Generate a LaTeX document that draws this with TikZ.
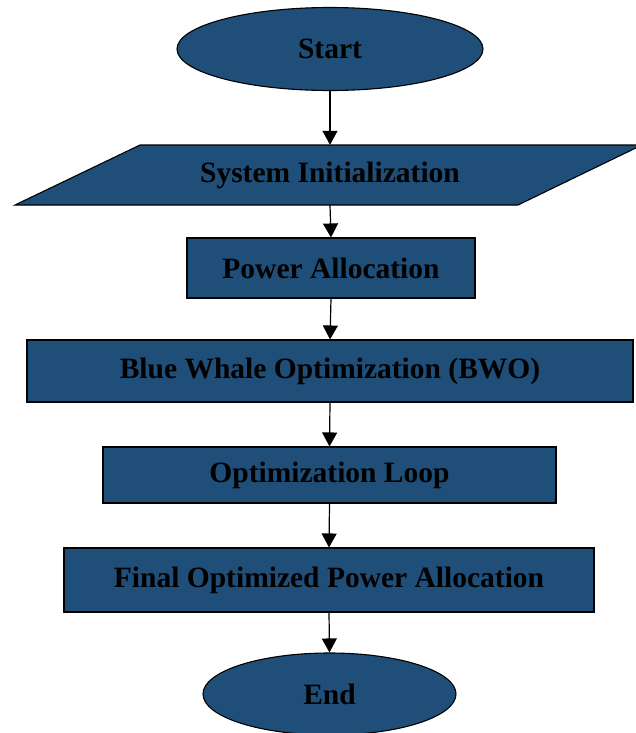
\documentclass[tikz,border=0pt]{standalone}
\usepackage{fontspec}
\setmainfont{Liberation Serif}
\usetikzlibrary{shapes.geometric,arrows.meta}

\definecolor{boxblue}{RGB}{31,78,121}

\begin{document}
\begin{tikzpicture}[x=1pt, y=-1pt]

\useasboundingbox (0,0) rectangle (635,733);

% Define styles for the blocks and the arrows
\tikzstyle{block} = [draw=black, fill=boxblue, line width=1.1pt]
\tikzstyle{txt} = [font=\fontsize{29.5}{34}\selectfont\bfseries, text=black, align=center]
\tikzstyle{stepbox} = [block, txt, rectangle, inner sep=0pt]
\tikzstyle{term} = [block, txt, ellipse, inner sep=0pt]
\tikzstyle{arrow} = [line width=1.2pt, -{Triangle[width=15pt, length=14pt]}]

% Terminals
\node[term, minimum width=306, minimum height=83] (start) at (330,49) {Start};
\node[term, minimum width=253, minimum height=82] (end) at (329.5,694) {End};

% Input block (parallelogram)
\filldraw[block] (15,205) -- (518,205) -- (642,145) -- (140,145) -- cycle;
\node[txt, minimum height=60, inner sep=0pt] (init) at (330,175) {System Initialization};

% Process blocks
\node[stepbox, minimum width=288, minimum height=60] (power) at (331,268) {Power Allocation};
\node[stepbox, minimum width=606, minimum height=62] (bwo) at (330,371) {Blue Whale Optimization (BWO)};
\node[stepbox, minimum width=453, minimum height=56] (loop) at (329.5,475) {Optimization Loop};
\node[stepbox, minimum width=530, minimum height=64] (final) at (329,580) {Final Optimized Power Allocation};

% Flow
\draw[arrow] (start.south) -- (init.north);
\draw[arrow] (init.south) -- (power.north);
\draw[arrow] (power.south) -- (bwo.north);
\draw[arrow] (bwo.south) -- (loop.north);
\draw[arrow] (loop.south) -- (final.north);
\draw[arrow] (final.south) -- (end.north);

\end{tikzpicture}
\end{document}
